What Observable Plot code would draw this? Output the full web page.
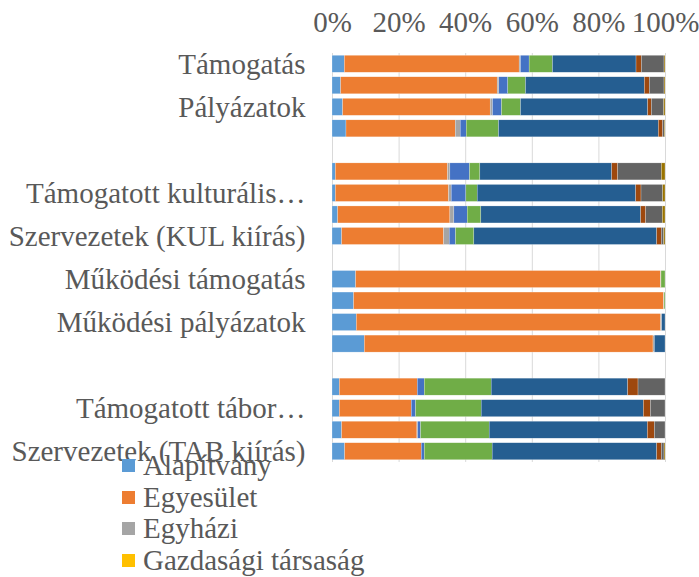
<!DOCTYPE html>
<html>
<head>
<meta charset="utf-8">
<script src="https://cdn.jsdelivr.net/npm/d3@7"></script>
<script src="https://cdn.jsdelivr.net/npm/@observablehq/plot@0.6"></script>
<style>
  html, body { margin: 0; padding: 0; background: white; }
  #wrap { position: relative; width: 699px; height: 577px; font-family: "Liberation Serif", "Times New Roman", serif; color: #595959; }
  #legend { position: absolute; left: 122px; top: 450px; font-size: 29px; line-height: 31.5px; }
  #legend .item { display: flex; align-items: center; white-space: nowrap; }
  #legend .sw { width: 13px; height: 13px; margin-right: 8px; flex: none; }
</style>
</head>
<body>
<div id="wrap"><div id="chart"></div><div id="legend"></div></div>
<script>
// Series (stack order) and colours
const series = ["Alapítvány", "Egyesület", "Egyházi", "Gazdasági társaság", "Költségvetési szerv",
  "Nonprofit gazdasági társaság", "Önkormányzat", "Magánszemély", "Egyéb", "Nem ismert"];
const colors = ["#5B9BD5", "#ED7D31", "#A5A5A5", "#FFC000", "#4472C4", "#70AD47", "#255E91", "#9E480E", "#636363", "#997300"];
const legendShown = ["Alapítvány", "Egyesület", "Egyházi", "Gazdasági társaság"];

// Category slots (every other label shown, blank slots separate groups)
const slotLabels = ["Támogatás", "", "Pályázatok", "", "",
  "", "Támogatott kulturális…", "", "Szervezetek (KUL kiírás)", "",
  "Működési támogatás", "", "Működési pályázatok", "", "",
  "", "Támogatott tábor…", "", "Szervezetek (TAB kiírás)"];
const barSlots = [0, 1, 2, 3, 5, 6, 7, 8, 10, 11, 12, 13, 15, 16, 17, 18];

// Shares (%) per series, one value per bar (top to bottom)
const alapitvany   = [3.7, 2.6, 3.2, 4.2, 1.0, 1.0, 1.7, 2.9, 7.1, 6.5, 7.3, 9.7, 2.2, 2.2, 2.9, 3.8];
const egyesulet    = [52.5, 47.0, 44.3, 32.8, 33.7, 34.0, 33.7, 30.6, 91.6, 93.1, 91.4, 86.7, 23.4, 21.6, 22.6, 23.0];
const egyhazi      = [0.4, 0.5, 0.7, 1.5, 0.7, 0.8, 1.2, 1.7, 0.1, 0.1, 0.3, 0.4, 0, 0, 0.2, 0];
const gazdasagi    = [0, 0, 0, 0, 0, 0, 0, 0, 0, 0, 0, 0, 0, 0, 0, 0];
const koltsegvetesi= [2.6, 2.7, 2.7, 1.8, 5.9, 4.4, 4.0, 1.9, 0, 0, 0, 0, 2.1, 1.3, 0.9, 0.9];
const nonprofit    = [7.0, 5.3, 5.7, 9.7, 3.1, 3.4, 4.1, 5.5, 1.2, 0.3, 0, 0, 20.1, 19.7, 20.6, 20.4];
const onkormanyzat = [25.1, 35.7, 38.2, 48.0, 39.6, 47.6, 48.0, 54.9, 0, 0, 1.0, 3.2, 41.0, 48.7, 47.5, 49.4];
const maganszemely = [1.6, 1.5, 1.1, 1.3, 1.8, 1.6, 1.5, 1.4, 0, 0, 0, 0, 3.1, 2.1, 2.1, 1.4];
const egyeb        = [6.8, 4.4, 3.7, 0.5, 13.1, 6.5, 5.0, 0.7, 0, 0, 0, 0, 8.1, 4.4, 3.2, 0.8];
const nemIsmert    = [0.3, 0.3, 0.4, 0.2, 1.1, 0.7, 0.8, 0.4, 0, 0, 0, 0, 0, 0, 0, 0.3];

const xTicks = [0, 0.2, 0.4, 0.6, 0.8, 1];

const seriesValues = [alapitvany, egyesulet, egyhazi, gazdasagi, koltsegvetesi, nonprofit, onkormanyzat, maganszemely, egyeb, nemIsmert];
const table = [];
barSlots.forEach((slot, b) => {
  series.forEach((s, k) => table.push({slot, series: s, value: seriesValues[k][b]}));
});

const chart = Plot.plot({
  width: 699,
  height: 577,
  marginTop: 53,
  marginBottom: 115,
  marginLeft: 332,
  marginRight: 34,
  style: {fontFamily: '"Liberation Serif", "Times New Roman", serif', fontSize: "29px", color: "#595959", background: "white", overflow: "visible"},
  x: {domain: [0, 1], axis: null, label: null},
  y: {domain: d3.range(slotLabels.length), axis: null, label: null, paddingInner: 0.21, paddingOuter: 0.105, round: false},
  color: {domain: series, range: colors},
  marks: [
    Plot.gridX(xTicks, {stroke: "#d9d9d9", strokeOpacity: 1, strokeWidth: 1}),
    Plot.barX(table, Plot.stackX({offset: "normalize", x: "value", y: "slot", fill: "series", stroke: "white", strokeWidth: 0.4, strokeOpacity: 0.6})),
    Plot.axisX(xTicks, {anchor: "top", label: null, tickSize: 0, tickPadding: 22, tickFormat: d => Math.round(d * 100) + "%", fontSize: 29}),
    Plot.axisY({anchor: "left", label: null, tickSize: 0, tickPadding: 27, tickFormat: i => slotLabels[i], fontSize: 29, textOverflow: null})
  ]
});
document.getElementById("chart").appendChild(chart);

const legend = document.getElementById("legend");
legendShown.forEach(name => {
  const item = document.createElement("div");
  item.className = "item";
  const sw = document.createElement("span");
  sw.className = "sw";
  sw.style.background = colors[series.indexOf(name)];
  const t = document.createElement("span");
  t.textContent = name;
  item.appendChild(sw); item.appendChild(t);
  legend.appendChild(item);
});
</script>
</body>
</html>
